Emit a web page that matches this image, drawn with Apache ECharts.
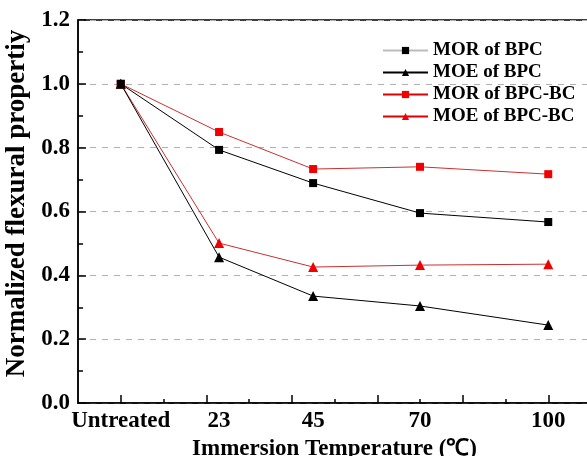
<!DOCTYPE html>
<html>
<head>
<meta charset="utf-8">
<script src="https://cdn.jsdelivr.net/npm/echarts@6/dist/echarts.min.js"></script>
<style>
  html, body { margin: 0; padding: 0; background: #fff; }
  #chart { width: 587px; height: 456px; }
</style>
</head>
<body>
<div id="chart"></div>
<script>
// x positions: Untreated drawn at 0, then immersion temperatures
const temps = [0, 23, 45, 70, 100]
const tempLabels = ['Untreated', '23', '45', '70', '100']

const morBPC = [1.0, 0.793, 0.689, 0.595, 0.567]
const moeBPC = [1.0, 0.457, 0.335, 0.304, 0.244]
const morBPCBC = [1.0, 0.849, 0.733, 0.740, 0.717]
const moeBPCBC = [1.0, 0.501, 0.426, 0.432, 0.435]

// tick positions along the x range -10..110, every 10
const tickSlots = ['-10', '0', '10', '20', '30', '40', '50', '60', '70', '80', '90', '100', '110']

const FONT = '"Liberation Serif", "Times New Roman", serif'

function pairs(values) {
  return temps.map((t, i) => [t, values[i]])
}

function makeSeries(name, values, lineColor, markColor, symbol, size, z) {
  return {
    name,
    type: 'line',
    data: pairs(values),
    symbol,
    symbolSize: size,
    itemStyle: { color: markColor },
    lineStyle: { color: lineColor, width: 1 },
    emphasis: { disabled: true },
    z,
  }
}

// category axis used only to draw ticks at the slots picked by keep()
function tickAxis(len, keep) {
  return {
    type: 'category',
    data: tickSlots,
    boundaryGap: false,
    position: 'bottom',
    axisLine: { show: false },
    axisTick: { show: true, inside: true, length: len, interval: keep, lineStyle: { color: '#000', width: 1.5 } },
    axisLabel: { show: false },
    splitLine: { show: false },
  }
}

const chart = echarts.init(document.getElementById('chart'))

const option = {
  animation: false,
  grid: {
    left: 78,
    top: 20,
    right: -4,
    bottom: 53,
    outerBoundsMode: 'none',
    show: true,
    borderColor: '#000',
    borderWidth: 1.5,
  },
  legend: {
    orient: 'vertical',
    left: 382,
    top: 41,
    padding: 0,
    itemWidth: 45,
    itemHeight: 9,
    itemGap: 3,
    textStyle: { fontFamily: FONT, fontWeight: 'bold', fontSize: 19, color: '#000' },
    data: [
      { name: 'MOR of BPC', lineStyle: { color: '#bbb' } },
      'MOE of BPC',
      { name: 'MOR of BPC-BC', lineStyle: { color: '#e00000' } },
      { name: 'MOE of BPC-BC', lineStyle: { color: '#e00000' } },
    ],
  },
  xAxis: [
    {
      type: 'value',
      min: -10,
      max: 110,
      name: 'Immersion Temperature (℃)',
      nameLocation: 'middle',
      nameGap: 29,
      nameTextStyle: { fontFamily: FONT, fontWeight: 'bold', fontSize: 23, color: '#000' },
      axisLine: { show: true, onZero: false, lineStyle: { color: '#000', width: 1.5 } },
      axisTick: { show: false },
      axisLabel: {
        customValues: temps,
        formatter: (v) => tempLabels[temps.indexOf(v)] || '',
        fontFamily: FONT, fontWeight: 'bold', fontSize: 23, color: '#000', margin: 7,
      },
      splitLine: { show: false },
    },
    tickAxis(8, (i) => i % 2 === 1),
    tickAxis(4, (i) => i % 2 === 0 && i > 0 && i < tickSlots.length - 1),
  ],
  yAxis: {
    type: 'value',
    min: 0,
    max: 1.2,
    interval: 0.2,
    name: 'Normalized flexural propertiy',
    nameLocation: 'middle',
    nameGap: 44,
    nameTextStyle: { fontFamily: FONT, fontWeight: 'bold', fontSize: 27, color: '#000', padding: [0, 0, 0, 16] },
    axisLine: { show: true, onZero: false, lineStyle: { color: '#000', width: 1.5 } },
    axisTick: { show: true, inside: true, length: 8, lineStyle: { color: '#000', width: 1.5 } },
    minorTick: { show: true, splitNumber: 2, length: 5, lineStyle: { color: '#000', width: 1.5 } },
    axisLabel: {
      formatter: (v) => v.toFixed(1),
      fontFamily: FONT, fontWeight: 'bold', fontSize: 23, color: '#000', margin: 8,
    },
    splitLine: { show: true, lineStyle: { color: '#b0b0b0', type: [6, 6], width: 1 } },
  },
  series: [
    makeSeries('MOR of BPC', morBPC, '#000', '#000', 'rect', 8, 4),
    makeSeries('MOE of BPC', moeBPC, '#000', '#000', 'triangle', 10, 4),
    makeSeries('MOR of BPC-BC', morBPCBC, '#c83030', '#f00000', 'rect', 8, 3),
    makeSeries('MOE of BPC-BC', moeBPCBC, '#c83030', '#f00000', 'triangle', 10, 3),
  ],
}

chart.setOption(option)
</script>
</body>
</html>
